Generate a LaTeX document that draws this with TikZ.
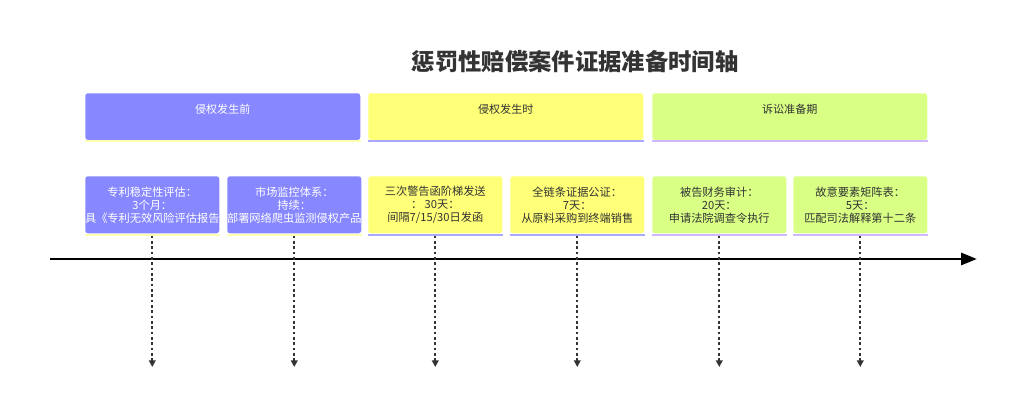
\documentclass[tikz,border=0pt]{standalone}
\usepackage{fontspec}
\setmainfont{Noto Sans CJK SC}
\usetikzlibrary{arrows.meta}
\definecolor{cpurple}{HTML}{8787FF}
\definecolor{cyellow}{HTML}{FFFF78}
\definecolor{cgreen}{HTML}{D9FF85}
\definecolor{spurple}{HTML}{FFFFB0}
\definecolor{syellow}{HTML}{A8A8FF}
\definecolor{sgreen}{HTML}{CFB8FF}
\definecolor{txt}{HTML}{333333}
\tikzset{
  px/.style={x=0.75pt,y=-0.75pt},
  secbox/.style={rectangle,rounded corners=2pt,minimum width=206.25pt,minimum height=35pt,inner sep=0pt,anchor=north west},
  taskbox/.style={rectangle,rounded corners=2pt,minimum width=100.5pt,minimum height=42.75pt,inner sep=0pt,anchor=north west},
  sectext/.style={font=\fontsize{8.3pt}{9.75pt}\selectfont,inner sep=0pt},
  tasktext/.style={font=\fontsize{8.4pt}{9.75pt}\selectfont,align=center,inner sep=0pt},
  strip/.style={line width=1.5pt},
  drop/.style={dash pattern=on 2.2pt off 1.8pt,line width=1.3pt,color=txt,-{Triangle[length=5pt,width=5pt]}},
  axis/.style={line width=2.2pt,black,-{Triangle[length=12pt,width=9pt]}}
}
\begin{document}
\begin{tikzpicture}[px]
\useasboundingbox (0,0) rectangle (1024,416);
\node[font=\fontsize{17.5pt}{19pt}\selectfont\bfseries,text=txt] (title) at (575,62) {惩罚性赔偿案件证据准备时间轴};
% sections
\node[secbox,fill=cpurple] (s1) at (85,93) {};
\node[secbox,fill=cyellow] (s2) at (368,93) {};
\node[secbox,fill=cgreen] (s3) at (652,93) {};
\draw[strip,spurple] ([yshift=-0.75pt]s1.south west) -- ([yshift=-0.75pt]s1.south east);
\draw[strip,syellow] ([yshift=-0.75pt]s2.south west) -- ([yshift=-0.75pt]s2.south east);
\draw[strip,sgreen] ([yshift=-0.75pt]s3.south west) -- ([yshift=-0.75pt]s3.south east);
\node[sectext,text=white] (t1) at ([yshift=-12.5pt]s1.north) {侵权发生前};
\node[sectext,text=txt] (t2) at ([yshift=-12.5pt]s2.north) {侵权发生时};
\node[sectext,text=txt] (t3) at ([yshift=-12.5pt]s3.north) {诉讼准备期};
% tasks
\node[taskbox,fill=cpurple] (a1) at (85,176) {};
\node[taskbox,fill=cpurple] (a2) at (227,176) {};
\node[taskbox,fill=cyellow] (a3) at (368,176) {};
\node[taskbox,fill=cyellow] (a4) at (510,176) {};
\node[taskbox,fill=cgreen] (a5) at (652,176) {};
\node[taskbox,fill=cgreen] (a6) at (793,176) {};
\draw[strip,spurple] ([yshift=-0.75pt]a1.south west) -- ([yshift=-0.75pt]a1.south east);
\draw[strip,spurple] ([yshift=-0.75pt]a2.south west) -- ([yshift=-0.75pt]a2.south east);
\draw[strip,syellow] ([yshift=-0.75pt]a3.south west) -- ([yshift=-0.75pt]a3.south east);
\draw[strip,syellow] ([yshift=-0.75pt]a4.south west) -- ([yshift=-0.75pt]a4.south east);
\draw[strip,sgreen] ([yshift=-0.75pt]a5.south west) -- ([yshift=-0.75pt]a5.south east);
\draw[strip,sgreen] ([yshift=-0.75pt]a6.south west) -- ([yshift=-0.75pt]a6.south east);
\node[tasktext,text=white] (l1) at (a1.center) {专利稳定性评估：\\3个月：\\具《专利无效风险评估报告};
\node[tasktext,text=white] (l2) at (a2.center) {市场监控体系：\\持续：\\部署网络爬虫监测侵权产品};
\node[tasktext,text=txt] (l3) at (a3.center) {三次警告函阶梯发送\\：\ 30天：\\间隔7/15/30日发函};
\node[tasktext,text=txt] (l4) at (a4.center) {全链条证据公证：\\7天：\\从原料采购到终端销售};
\node[tasktext,text=txt] (l5) at (a5.center) {被告财务审计：\\20天：\\申请法院调查令执行};
\node[tasktext,text=txt] (l6) at (a6.center) {故意要素矩阵表：\\5天：\\匹配司法解释第十二条};
% axis
\coordinate (ax0) at (50,259);
\coordinate (ax1) at (977,259);
\draw[axis] (ax0) -- (ax1);
% drops
\foreach \n in {1,...,6} {
  \coordinate (e\n) at (a\n.south |- 0,367);
  \draw[drop] ([yshift=-1.5pt]a\n.south) -- (e\n);
}
\end{tikzpicture}
\end{document}
